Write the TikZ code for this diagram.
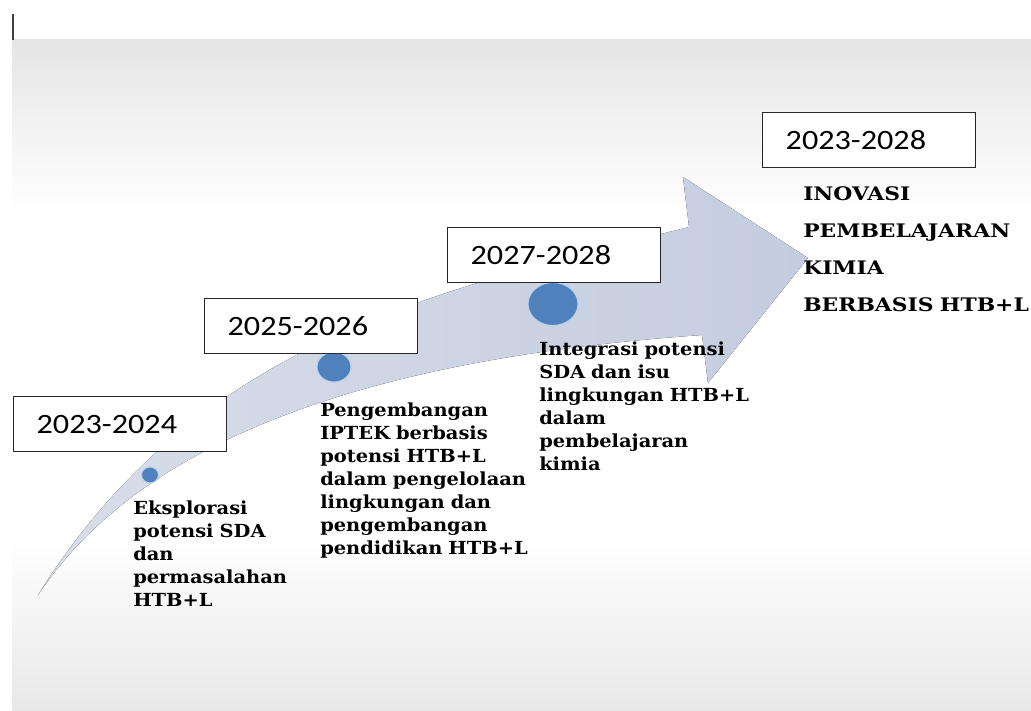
\documentclass[tikz,border=0pt]{standalone}
\usepackage{fontspec}
\usetikzlibrary{shapes.geometric}
\newfontfamily\boxfont[FakeStretch=1.15]{Carlito}
\newfontfamily\serfont[FakeStretch=1.08]{DejaVu Serif}
\newfontfamily\capfont[FakeStretch=1.17]{DejaVu Serif}
\definecolor{arrowA}{HTML}{D8DDE8}
\definecolor{arrowB}{HTML}{C4CDDF}
\definecolor{dotblue}{HTML}{4F81BD}
\definecolor{dotring}{HTML}{BCD0EA}
\begin{document}
\begin{tikzpicture}[x=0.75pt,y=-0.75pt,
  yearbox/.style={draw=black!85, line width=1pt, fill=white, anchor=north west,
    minimum width=159.75pt, minimum height=41.25pt, inner xsep=17.25pt, inner ysep=0pt,
    text width=125.25pt, align=left, font=\boxfont\fontsize{21pt}{24pt}\selectfont},
  dot/.style={ellipse, fill=dotblue, draw=dotring, line width=0.8pt, inner sep=0pt},
  desc/.style={anchor=base west, inner sep=0pt, text width=200pt, align=left,
    font=\serfont\bfseries\fontsize{13.5pt}{17.25pt}\selectfont},
  goal/.style={anchor=base west, inner sep=0pt, text width=200pt, align=left,
    font=\capfont\bfseries\fontsize{14pt}{27.75pt}\selectfont}]
\useasboundingbox (0,0) rectangle (1031,710);
% background
\fill[top color=black!10, bottom color=white] (12,40) rectangle (1031,213);
\fill[top color=white, bottom color=black!9] (12,537) rectangle (1031,710);
\draw[black!75, line width=1.5pt] (13,14) -- (13,40);
% curved arrow
\fill[left color=arrowA, right color=arrowB] (38,595)
  .. controls (198,339) and (440,289.5) .. (689,227)
  -- (683,177) -- (808,258) -- (708,383) -- (702,335)
  .. controls (355,359.5) and (138,445) .. (38,595) -- cycle;
% dots
\node[dot, minimum width=12.75pt, minimum height=12pt] (d1) at (150,475) {};
\node[dot, minimum width=25.5pt, minimum height=22.5pt] (d2) at (334,367) {};
\node[dot, minimum width=37.5pt, minimum height=32.25pt] (d3) at (553,304) {};
% year boxes
\node[yearbox] (y1) at (13,396) {2023-2024};
\node[yearbox] (y2) at (204,298) {2025-2026};
\node[yearbox] (y3) at (447,227) {2027-2028};
\node[yearbox] (y4) at (762,112) {2023-2028};
% descriptions
\node[desc] (t1) at (133,514) {Eksplorasi\\potensi SDA\\dan\\permasalahan\\HTB+L};
\node[desc] (t2) at (320,416) {Pengembangan\\IPTEK berbasis\\potensi HTB+L\\dalam pengelolaan\\lingkungan dan\\pengembangan\\pendidikan HTB+L};
\node[desc] (t3) at (539,355) {Integrasi potensi\\SDA dan isu\\lingkungan HTB+L\\dalam\\pembelajaran\\kimia};
\node[goal] (t4) at (803,200) {INOVASI\\PEMBELAJARAN\\KIMIA\\BERBASIS HTB+L};
\end{tikzpicture}
\end{document}
